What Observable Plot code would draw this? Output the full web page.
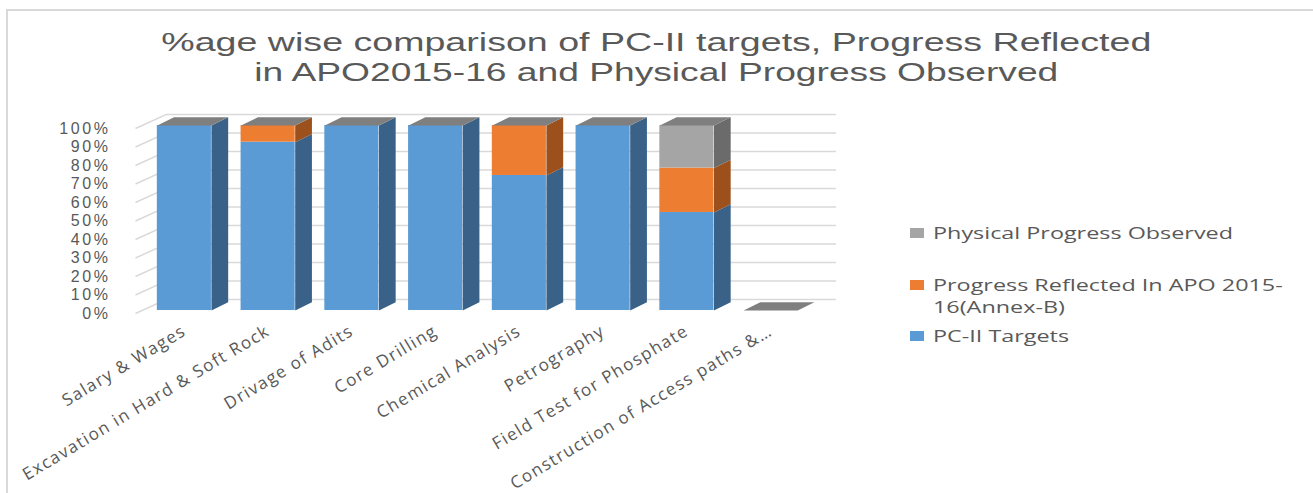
<!DOCTYPE html>
<html><head><meta charset="utf-8">
<script src="https://cdn.jsdelivr.net/npm/d3@7"></script>
<script src="https://cdn.jsdelivr.net/npm/@observablehq/plot@0.6"></script>
<style>
body{margin:0;background:#fff;}
#wrap{position:relative;width:1313px;height:493px;overflow:hidden;font-family:"Open Sans",sans-serif;color:#595959;}
#frame{position:absolute;left:6px;top:9px;right:-10px;bottom:-10px;border-top:2px solid #d9d9d9;border-left:2px solid #d9d9d9;}
.tl{position:absolute;left:0;width:1313px;text-align:center;font-family:"Liberation Sans",sans-serif;font-size:25px;line-height:30px;white-space:nowrap;}
.tl span{display:inline-block;transform-origin:center;}
#chart{position:absolute;left:0;top:100px;}
.sq{position:absolute;left:910px;width:14px;height:10px;}
.lt{position:absolute;left:933px;font-size:17px;line-height:22px;white-space:nowrap;transform-origin:left center;}
#chart g[aria-label="x-axis tick label"] text{letter-spacing:1.4px;}
#chart g[aria-label="y-axis tick label"] text{letter-spacing:2.6px;font-family:"Liberation Sans",sans-serif;}
</style>
</head><body>
<div id="wrap">
  <div id="frame"></div>
  <div class="tl" style="top:27px"><span id="t1">%age wise comparison of PC-II targets, Progress Reflected</span></div>
  <div class="tl" style="top:57px"><span id="t2">in APO2015-16 and Physical Progress Observed</span></div>
  <div id="chart"></div>
  <div id="legend"></div>
</div>
<script>
// ---- data ----
const categories = ["Salary & Wages", "Excavation in Hard & Soft Rock", "Drivage of Adits", "Core Drilling", "Chemical Analysis", "Petrography", "Field Test for Phosphate", "Construction of Access paths &…"];
const pcTargets        = [100, 91, 100, 100, 73, 100, 53, 0];
const apoProgress      = [0,    9,   0,   0, 27,   0, 24, 0];
const physicalProgress = [0,    0,   0,   0,  0,   0, 23, 0];
const seriesNames = ["PC-II Targets", "Progress Reflected In APO 2015-16(Annex-B)", "Physical Progress Observed"];
const yTicks = [0, 10, 20, 30, 40, 50, 60, 70, 80, 90, 100];

// ---- styles ----
const frontColors = ["#5b9bd5", "#ed7d31", "#a5a5a5"];
const sideColors  = ["#3a6288", "#9c511d", "#6b6b6b"];
const topColor = "#7f7f7f";
const HALF = 0.323, SDX = 0.2, SDY = 4.4;     // bar half-width & depth (scale units)
const WALL_X = 0.37, WALL_Y = 7.6;            // depth of the back wall

const values = [pcTargets, apoProgress, physicalProgress];
const fronts = [], polys = [];
categories.forEach((c, i) => {
  let base = 0;
  values.forEach((arr, s) => {
    const v = arr[i];
    if (v > 0) {
      fronts.push({x1: i - HALF, x2: i + HALF, y1: base, y2: base + v, fill: frontColors[s]});
      const id = `s${i}-${s}`;
      [[i + HALF, base], [i + HALF + SDX, base + SDY], [i + HALF + SDX, base + v + SDY], [i + HALF, base + v]]
        .forEach(([x, y]) => polys.push({id, x, y, fill: sideColors[s]}));
    }
    base += v;
  });
  const id = `t${i}`;
  [[i - HALF, base], [i + HALF, base], [i + HALF + SDX, base + SDY], [i - HALF + SDX, base + SDY]]
    .forEach(([x, y]) => polys.push({id, x, y, fill: topColor}));
});

const chart = Plot.plot({
  width: 1313, height: 393,
  marginLeft: 142, marginRight: 501, marginTop: 25, marginBottom: 183,
  x: {type: "linear", domain: [-0.5, categories.length - 0.5], axis: null},
  y: {domain: [0, 100], axis: null},
  color: {type: "identity"},
  style: {fontFamily: "'Open Sans', sans-serif", color: "#595959", background: "transparent", overflow: "visible"},
  marks: [
    Plot.gridY(yTicks, {stroke: "#d9d9d9", strokeOpacity: 1, strokeWidth: 1.5, dx: 24, dy: -11}),
    Plot.link(yTicks, {x1: -0.5, x2: -0.5 + WALL_X, y1: d => d, y2: d => d + WALL_Y, dx: -7, dy: 3, stroke: "#d9d9d9", strokeWidth: 1.5}),
    Plot.rect(fronts, {x1: "x1", x2: "x2", y1: "y1", y2: "y2", fill: "fill"}),
    Plot.line(polys, {x: "x", y: "y", z: "id", fill: "fill", stroke: "none"}),
    Plot.axisY(yTicks, {anchor: "left", tickSize: 0, tickPadding: 0, dx: -32, dy: 3, tickFormat: d => d + "%", fontSize: 16, label: null}),
    Plot.axisX(d3.range(categories.length), {anchor: "bottom", tickSize: 0, tickPadding: 19, tickRotate: -31, tickFormat: i => categories[i], fontSize: 17, label: null})
  ]
});
document.getElementById("chart").append(chart);

// ---- legend ----
const legend = document.getElementById("legend");
const legendRows = [
  {s: 2, y: 233}, {s: 1, y: 285}, {s: 0, y: 336}
];
const legendTexts = [];
legendRows.forEach(({s, y}) => {
  const sq = document.createElement("div");
  sq.className = "sq"; sq.style.top = (y - 5) + "px"; sq.style.background = frontColors[s];
  legend.append(sq);
  const t = document.createElement("div");
  t.className = "lt"; t.style.top = (y - 11) + "px";
  t.innerHTML = seriesNames[s].replace("2015-", "2015-<br>");
  legend.append(t);
  legendTexts.push(t);
});
// horizontal stretch to match reference text widths
function fitW(el, w){ const r = el.getBoundingClientRect().width; el.style.transform = `scaleX(${w / r})`; return w / r; }
fitW(document.getElementById("t1"), 990);
fitW(document.getElementById("t2"), 804);
const s0 = 300 / legendTexts[0].getBoundingClientRect().width;
legendTexts.forEach(t => t.style.transform = `scaleX(${s0})`);
</script>
</body></html>
